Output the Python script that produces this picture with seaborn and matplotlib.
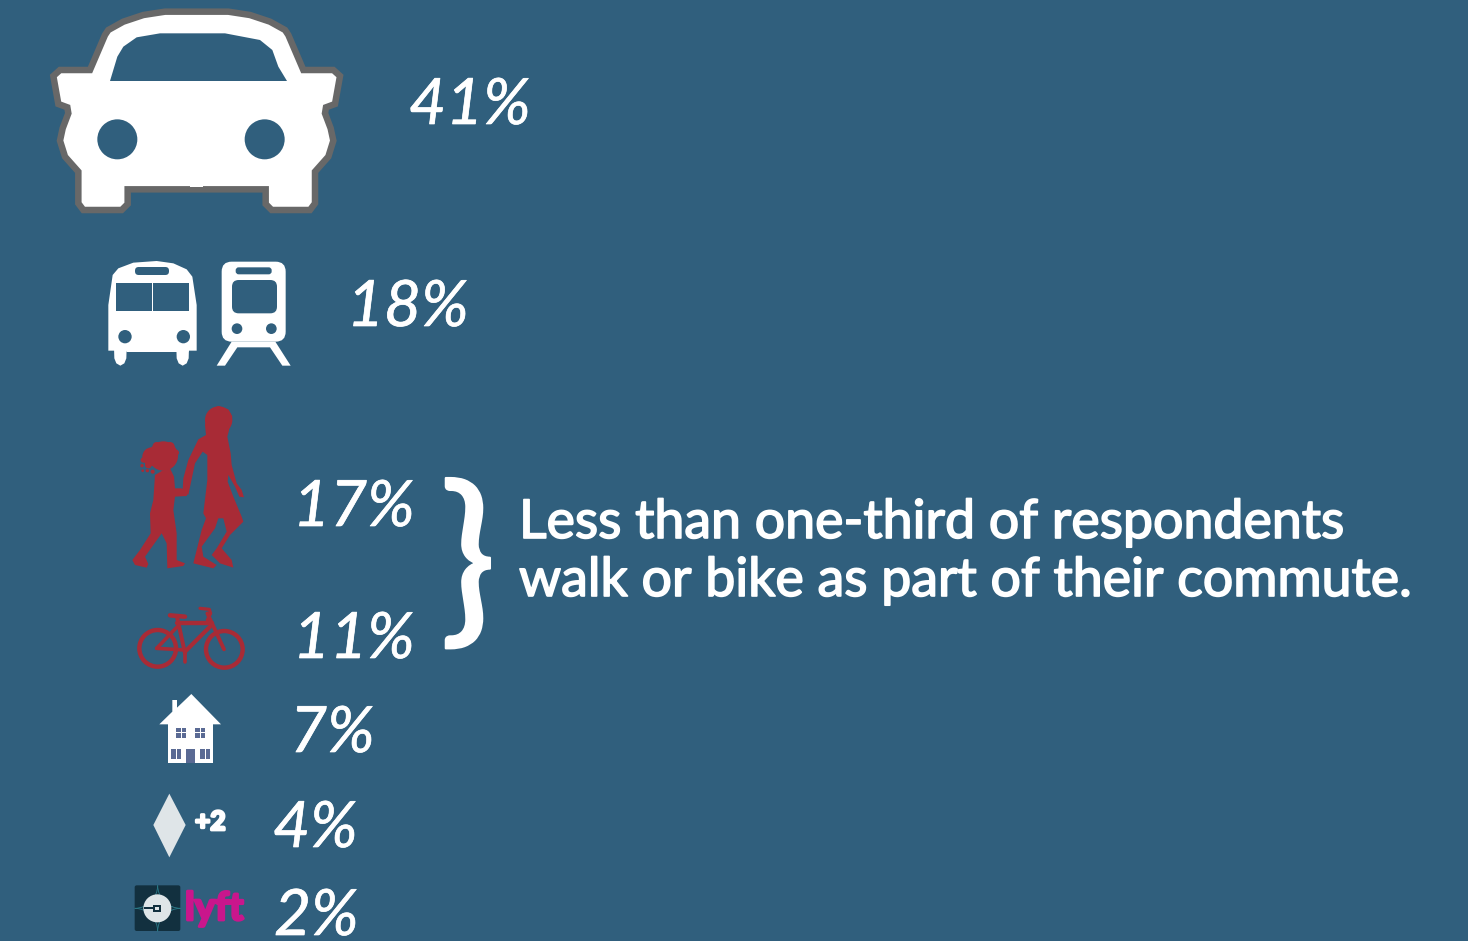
import numpy as np
import pandas as pd
import seaborn as sns
import matplotlib
matplotlib.use("Agg")
import matplotlib.pyplot as plt
from matplotlib.patches import Polygon, Circle, Ellipse, Rectangle, FancyBboxPatch, Arc
import matplotlib.patheffects as pe

# ---- data ----
modes = ["Drive", "Transit", "Walk", "Bike", "Work from home", "Carpool", "Ride-hailing"]
shares = [41, 18, 17, 11, 7, 4, 2]
note_lines = ["Less than one-third of respondents", "walk or bike as part of their commute."]

# ---- layout (reference pixels) ----
label_x = [409, 347, 293, 293, 290, 273, 274]
label_base = [124, 326, 526, 658, 752, 847, 935]

BG = "#305f7d"
WHITE = "#ffffff"
GRAY = "#686868"
RED = "#a82b36"
PALE = "#dfe5e8"
NAVY = "#5a6a94"
DARK = "#12303f"
TEAL = "#2b7c8a"
MAGENTA = "#c9168c"

sns.set_theme(style="white")
plt.rcParams["font.family"] = ["Lato", "DejaVu Sans"]

fig = plt.figure(figsize=(14.68, 9.41), dpi=100, facecolor=BG)
ax = fig.add_axes([0, 0, 1, 1], facecolor=BG)
ax.set_xlim(0, 1468)
ax.set_ylim(941, 0)
ax.axis("off")
sns.despine(ax=ax, left=True, bottom=True)

PX = 72 / 100


def bolder(w, color=WHITE):
    return [pe.withStroke(linewidth=w, foreground=color)]


def poly(pts, ox, oy, color, ec="none", lw=0, z=2, join="round"):
    xy = [(x / 3 + ox, y / 3 + oy) for x, y in pts]
    p = Polygon(xy, closed=True, fc=color, ec=ec, lw=lw * PX, zorder=z, joinstyle=join)
    ax.add_patch(p)


def circ(x, y, r, ox, oy, color, z=3, ec="none", lw=0):
    ax.add_patch(Circle((x / 3 + ox, y / 3 + oy), r / 3, fc=color, ec=ec, lw=lw * PX, zorder=z))


def rect(x0, y0, x1, y1, ox, oy, color, z=3, r=0):
    X0, Y0, X1, Y1 = x0 / 3 + ox, y0 / 3 + oy, x1 / 3 + ox, y1 / 3 + oy
    if r:
        ax.add_patch(FancyBboxPatch((X0 + r / 3, Y0 + r / 3), X1 - X0 - 2 * r / 3, Y1 - Y0 - 2 * r / 3,
                                    boxstyle=f"round,pad={r / 3},rounding_size={r / 3}",
                                    fc=color, ec="none", zorder=z))
    else:
        ax.add_patch(Rectangle((X0, Y0), X1 - X0, Y1 - Y0, fc=color, ec="none", zorder=z))


def line(pts, ox, oy, color, lw, z=3):
    xs = [p[0] / 3 + ox for p in pts]
    ys = [p[1] / 3 + oy for p in pts]
    ax.plot(xs, ys, color=color, lw=lw * PX, solid_capstyle="round", solid_joinstyle="round", zorder=z)


# ---- car ----
half = [(470, 35), (375, 35), (310, 45), (250, 65), (205, 90), (195, 105), (150, 210), (60, 210),
        (40, 228), (55, 312), (82, 322), (85, 340), (68, 385), (60, 422), (75, 470), (115, 515),
        (115, 610), (130, 630), (245, 630), (263, 612), (263, 568), (470, 568)]
car = half + [(940 - x, y) for x, y in half[::-1][1:-1]]
poly(car, 40, 0, WHITE, ec=GRAY, lw=6.5, join="miter")
poly([(210, 243), (232, 170), (250, 140), (290, 112), (360, 100), (555, 100), (660, 120), (697, 150),
      (715, 200), (741, 243)], 40, 0, BG, z=3)
circ(232, 418, 60, 40, 0, BG)
circ(674, 418, 60, 40, 0, BG)
rect(450, 556, 490, 562, 40, 0, WHITE, z=4)

# ---- bus ----
poly([(205, 1052), (205, 915), (218, 825), (235, 805), (280, 788), (350, 783), (400, 790), (440, 808),
      (457, 830), (470, 915), (470, 1052), (447, 1052), (445, 1056), (260, 1056), (258, 1052)], 40, 0, WHITE)
for cx in (241, 428):
    poly([(cx - 19, 1040), (cx + 19, 1040), (cx + 18, 1075), (cx + 12, 1090), (cx, 1097), (cx - 12, 1090),
          (cx - 18, 1075)], 40, 0, WHITE)
rect(228, 849, 336, 933, 40, 0, BG)
rect(339, 849, 447, 933, 40, 0, BG)
rect(285, 801, 387, 825, 40, 0, BG, r=11)
circ(255, 1010, 20, 40, 0, BG)
circ(430, 1010, 20, 40, 0, BG)

# ---- train ----
rect(545, 785, 737, 1025, 40, 0, WHITE, z=2, r=30)
rect(587, 802, 695, 823, 40, 0, BG, r=9)
rect(576, 840, 711, 940, 40, 0, BG, r=20)
circ(591, 986, 16, 40, 0, BG)
circ(694, 986, 16, 40, 0, BG)
poly([(530, 1097), (555, 1097), (592, 1042), (690, 1042), (727, 1097), (752, 1097), (706, 1025),
      (575, 1025)], 40, 0, WHITE)

# ---- walkers ----
OX, OY = 120, 400
child = [(130, 210), (105, 225), (100, 300), (90, 340), (92, 400), (60, 450), (37, 480), (45, 495),
         (80, 503), (85, 492), (75, 470), (125, 400), (140, 430), (142, 505), (190, 498), (195, 490),
         (170, 480), (170, 400), (160, 330), (165, 290), (200, 288), (205, 275), (185, 265), (165, 265),
         (162, 230), (150, 205)]
poly(child, OX, OY, RED)
circ(130, 168, 44, OX, OY, RED)
for x, y, r in [(95, 170, 28), (78, 165, 9), (70, 180, 8), (66, 197, 5), (68, 212, 4), (82, 212, 5), (98, 215, 6),
                (85, 195, 10), (110, 138, 12), (150, 140, 14), (168, 158, 9)]:
    circ(x, y, r, OX, OY, RED)
woman = [(270, 30), (295, 18), (325, 28), (337, 50), (330, 75), (326, 95), (322, 110), (332, 160),
         (335, 195), (350, 250), (365, 270), (372, 292), (358, 290), (345, 260), (325, 225), (323, 245),
         (340, 290), (365, 350), (370, 365), (330, 405), (305, 445), (335, 480), (340, 503), (300, 490),
         (275, 465), (290, 445), (320, 395), (310, 355), (295, 355), (285, 385), (245, 440), (250, 470),
         (290, 495), (280, 505), (220, 490), (225, 470), (245, 390), (258, 355), (250, 340), (262, 240),
         (262, 165), (248, 155), (225, 190), (205, 285), (188, 270), (190, 235), (205, 180), (235, 118),
         (258, 105), (255, 75), (262, 45)]
poly(woman, OX, OY, RED)
circ(296, 60, 41, OX, OY, RED)

# ---- bike ----
for cx, cy in [(113, 745), (313, 748)]:
    circ(cx, cy, 55, OX, OY, "none", ec=RED, lw=4.4)
line([(172, 655), (195, 760)], OX, OY, RED, 4)
line([(172, 668), (275, 668)], OX, OY, RED, 4.4)
line([(270, 680), (195, 755)], OX, OY, RED, 4.2)
line([(195, 750), (110, 745)], OX, OY, RED, 3.6)
line([(172, 680), (110, 745)], OX, OY, RED, 3.6)
line([(262, 640), (290, 700), (312, 748)], OX, OY, RED, 3.8)
line([(240, 625), (268, 628), (272, 640), (262, 660)], OX, OY, RED, 3.2)
line([(150, 646), (195, 650)], OX, OY, RED, 4.5)
line([(195, 760), (195, 785)], OX, OY, RED, 3.6)

# ---- house ----
HX, HY = 120, 685
poly([(118, 118), (157, 80), (157, 45), (171, 45), (171, 68), (214, 27), (303, 118)], HX, HY, WHITE)
rect(143, 118, 280, 235, HX, HY, WHITE, z=2)
for x0, y0, x1, y1 in [(168, 129, 198, 158), (225, 129, 255, 158), (153, 192, 183, 222), (240, 192, 270, 222)]:
    rect(x0, y0, x1, y1, HX, HY, NAVY)
for x0, x1 in [(168, 198), (225, 255)]:
    rect((x0 + x1) / 2 - 1.5, 129, (x0 + x1) / 2 + 1.5, 158, HX, HY, WHITE, z=4)
    rect(x0, 142, x1, 145, HX, HY, WHITE, z=4)
for x0, x1 in [(153, 183), (240, 270)]:
    rect((x0 + x1) / 2 - 1.5, 192, (x0 + x1) / 2 + 1.5, 222, HX, HY, WHITE, z=4)
rect(198, 192, 226, 233, HX, HY, NAVY)

# ---- carpool ----
poly([(100, 420), (148, 326), (197, 420), (148, 517)], HX, HY, PALE)
ax.text(195, 830, "+2", color=WHITE, fontsize=19, fontweight="bold", va="baseline", ha="left", zorder=3,
        path_effects=bolder(2))

# ---- uber / lyft ----
rect(44, 601, 181, 738, HX, HY, DARK, z=2, r=6)
ux, uy = 44 / 3 + HX, 601 / 3 + HY
for cx, cy, a, b in [(0, 0, 0, 90), (46, 0, 90, 180), (0, 46, 270, 360), (46, 46, 180, 270)]:
    ax.add_patch(Arc((ux + cx, uy + cy), 46, 46, theta1=a, theta2=b, ec=TEAL, lw=0.6, zorder=3))
circ(112, 670, 42, HX, HY, PALE, z=4)
rect(72, 665, 112, 671, HX, HY, DARK, z=5)
rect(100, 660, 122, 681, HX, HY, DARK, z=5)
rect(106, 666, 116, 675, HX, HY, PALE, z=6)
ax.text(185, 920, "lyft", color=MAGENTA, fontsize=28, fontweight="bold", va="baseline", ha="left", zorder=3,
        path_effects=bolder(2, MAGENTA))

# ---- percentages ----
table = pd.DataFrame({"mode": modes, "share": shares, "x": label_x, "y": label_base})
for row in table.itertuples():
    ax.text(row.x, row.y, f"{row.share}%", color=WHITE, fontsize=46, style="italic", fontweight="normal",
            va="baseline", ha="left", zorder=5, path_effects=bolder(0.5))

# ---- brace and note ----
ax.text(468, 568, "}", color=WHITE, fontsize=134, fontweight="medium", ha="center", va="center", zorder=5,
        path_effects=bolder(1.5))
ax.text(519, 538, note_lines[0], color=WHITE, fontsize=38.65, fontweight="normal", va="baseline", ha="left",
        zorder=5, path_effects=bolder(1.2))
ax.text(519, 596, note_lines[1], color=WHITE, fontsize=38.65, fontweight="normal", va="baseline", ha="left",
        zorder=5, path_effects=bolder(1.2))

fig.savefig("out.png", dpi=100, facecolor=BG)
